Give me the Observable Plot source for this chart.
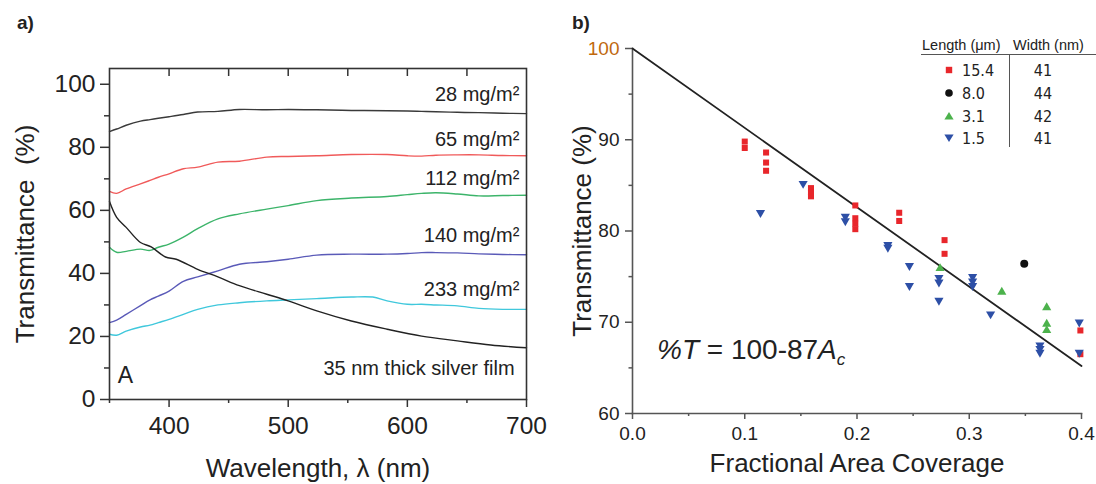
<!DOCTYPE html>
<html>
<head>
<meta charset="utf-8">
<script src="https://cdn.jsdelivr.net/npm/d3@7"></script>
<script src="https://cdn.jsdelivr.net/npm/@observablehq/plot@0.6"></script>
<style>
  html, body { margin: 0; padding: 0; background: #fff; }
  #wrap { position: relative; width: 1096px; height: 484px; overflow: hidden; background: #fff;
          font-family: "Liberation Sans", Arial, sans-serif; color: #222; }
  #wrap svg { position: absolute; top: 0; }
  .abs { position: absolute; white-space: nowrap; }
  .panel-tag { font-weight: bold; font-size: 19px; }
  .leg { font-family: "Liberation Sans Narrow", "DejaVu Sans Condensed", "Liberation Sans", sans-serif; font-size: 16px; transform: translateY(-50%); }
  .hdr { font-size: 14.5px; transform: translateY(-50%); }
  .eq { font-size: 28px; transform: translateY(-50%); }
  .eq sub { font-size: 17px; vertical-align: -0.3em; }
</style>
</head>
<body>
<div id="wrap"></div>
<script>
// ---------- Panel a data: transmittance spectra ----------
const wl28 = [350,356,364,376,384,391,400,412,424,441,459,482,500,524,553,583,600,612,624,642,660,680,700];
const t28  = [85.0,85.8,87.0,88.3,88.8,89.2,89.7,90.4,91.2,91.4,92.0,91.9,92.0,91.9,91.7,91.6,91.5,91.4,91.3,91.1,91.0,90.8,90.7];
const wl65 = [350,356,364,376,384,391,400,412,424,441,459,482,500,524,553,583,600,612,624,642,660,680,700];
const t65  = [66.0,65.4,66.8,68.4,69.5,70.5,71.6,73.2,73.7,75.3,75.6,76.9,77.1,77.3,77.7,77.7,77.3,77.2,77.5,77.6,77.6,77.4,77.3];
const wl112 = [350,356,364,376,384,391,400,412,424,441,459,482,500,524,553,583,600,612,624,642,660,680,700];
const t112  = [48.3,46.7,47.0,47.7,47.3,48.3,49.3,51.5,54.2,57.3,58.9,60.4,61.5,63.1,63.9,64.4,65.0,65.4,65.6,65.2,64.6,64.7,64.8];
const wl140 = [350,356,364,376,384,391,400,412,424,441,459,482,500,524,553,583,600,612,624,642,660,680,700];
const t140  = [24.4,25.2,27.0,29.8,31.6,32.8,34.4,37.5,38.9,40.8,42.9,43.7,44.5,45.8,46.1,46.1,46.3,46.6,46.6,46.5,46.2,46.0,45.9];
const wl233 = [350,356,364,376,384,391,400,412,424,441,459,482,500,524,553,571,583,600,612,624,642,660,680,700];
const t233  = [20.7,20.4,21.7,23.0,23.6,24.4,25.4,27.0,28.6,30.0,30.7,31.3,31.6,32.0,32.5,32.5,31.3,30.2,30.2,30.0,29.7,28.9,28.6,28.6];
const wlAg = [350,356,364,376,385,397,406,424,441,459,482,500,524,553,583,612,642,670,700];
const tAg  = [62.8,57.8,54.6,49.8,48.4,45.2,44.5,41.3,38.9,36.1,33.4,31.3,28.1,24.9,22.3,20.1,18.6,17.3,16.4];

const seriesNames = ["28","65","112","140","233","Ag"];
const seriesColors = ["#3a3a3a","#f05a5a","#3cb46a","#5a5ab8","#40c8dc","#222222"];

const annText = ["28 mg/m²","65 mg/m²","112 mg/m²","140 mg/m²","233 mg/m²","35 nm thick silver film"];
const annX = [694,694,694,694,694,690];
const annY = [96.6,82.3,70.1,52.1,34.9,9.8];

const aYTicks = [0,20,40,60,80,100];
const aYMinor = [10,30,50,70,90];
const aXTicks = [400,500,600,700];
const aXMinor = [350,450,550,650];
const aTopTicks = [400,450,500,550,600,650];

// ---------- Panel b data: transmittance vs area coverage ----------
const redX = [0.100,0.100,0.119,0.119,0.119,0.159,0.159,0.159,0.1985,0.1985,0.1985,0.1985,0.2376,0.2376,0.278,0.278,0.399,0.399];
const redY = [89.8,89.1,88.6,87.5,86.6,84.7,84.2,83.8,82.8,81.4,80.8,80.2,82.0,81.1,79.0,77.5,69.1,66.5];
const blackX = [0.349];
const blackY = [76.4];
const greenX = [0.274,0.329,0.369,0.369,0.369];
const greenY = [75.9,73.3,71.6,69.8,69.1];
const blueX = [0.114,0.152,0.1896,0.1896,0.2275,0.2275,0.2467,0.2467,0.273,0.273,0.273,0.303,0.303,0.303,0.319,0.363,0.363,0.363,0.398,0.398];
const blueY = [82.0,85.2,81.6,81.1,78.5,78.2,76.2,74.0,74.9,74.4,72.4,75.0,74.5,74.0,70.9,67.5,67.1,66.7,70.0,66.7];
const fitX = [0, 0.4];
const fitY = [100, 65.2];

const bYTicks = [60,70,80,90];
const bYTop = [100];
const bYMinor = [65,75,85,95];
const bXTicks = [0,0.1,0.2,0.3,0.4];
const bXMinor = [0.05,0.15,0.25,0.35];

const legLength = ["15.4","8.0","3.1","1.5"];
const legWidth = ["41","44","42","41"];

// ---------- build tables ----------
const specWl = [wl28,wl65,wl112,wl140,wl233,wlAg];
const specT = [t28,t65,t112,t140,t233,tAg];
const spectra = seriesNames.flatMap((s,i) => specWl[i].map((w,j) => ({s, wl: w, t: specT[i][j]})));
const ann = annText.map((t,i) => ({t, x: annX[i], y: annY[i]}));
const zip = (xs, ys) => xs.map((x,i) => ({x, y: ys[i]}));

const FONT = '"Liberation Sans", Arial, sans-serif';
const wrap = document.getElementById("wrap");

// ---------- Panel a ----------
const plotA = Plot.plot({
  width: 560, height: 484,
  marginLeft: 109, marginRight: 34, marginTop: 68, marginBottom: 85,
  style: {fontFamily: FONT, background: "transparent", color: "#222"},
  x: {domain: [350, 700]},
  y: {domain: [0, 105]},
  color: {type: "ordinal", domain: seriesNames, range: seriesColors},
  marks: [
    Plot.line(spectra, {x: "wl", y: "t", z: "s", stroke: "s", strokeWidth: 1.4, curve: "catmull-rom"}),
    Plot.frame({stroke: "#333", strokeWidth: 1.6}),
    Plot.axisY({ticks: aYTicks, tickSize: 9, tickPadding: 5, fontSize: 24.5, label: null, stroke: "#333", strokeWidth: 1.5, fill: "#222"}),
    Plot.axisY({ticks: aYMinor, tickSize: 5, text: null, label: null, stroke: "#333", strokeWidth: 1.5}),
    Plot.axisX({ticks: aXTicks, tickSize: 8, tickPadding: 9, fontSize: 24.5, label: null, stroke: "#333", strokeWidth: 1.5, fill: "#222"}),
    Plot.axisX({ticks: aXMinor, tickSize: 4, text: null, label: null, stroke: "#333", strokeWidth: 1.5}),
    Plot.tickX(aTopTicks, {x: d => d, insetBottom: 323, stroke: "#333", strokeWidth: 1.5}),
    Plot.text(ann, {x: "x", y: "y", text: "t", textAnchor: "end", fontSize: 20, fill: "#222"}),
    Plot.text(["A"], {x: [357], y: [7.6], text: d => d, textAnchor: "start", fontSize: 23, fill: "#222"}),
    Plot.text(["Transmittance  (%)"], {text: d => d, frameAnchor: "left", textAnchor: "middle", lineAnchor: "middle", dx: -84, rotate: -90, fontSize: 26, fill: "#222"}),
    Plot.text(["Wavelength, λ (nm)"], {text: d => d, frameAnchor: "bottom", textAnchor: "middle", lineAnchor: "middle", dy: 69, fontSize: 26, fill: "#222"})
  ]
});
plotA.style.left = "0px";
wrap.appendChild(plotA);

// ---------- Panel b ----------
const plotB = Plot.plot({
  width: 536, height: 484,
  marginLeft: 72, marginRight: 15, marginTop: 48, marginBottom: 71,
  style: {fontFamily: FONT, background: "transparent", color: "#222"},
  x: {domain: [0, 0.4]},
  y: {domain: [60, 100]},
  marks: [
    Plot.frame({anchor: "left", stroke: "#555", strokeWidth: 1.6}),
    Plot.frame({anchor: "bottom", stroke: "#555", strokeWidth: 1.6}),
    Plot.axisY({ticks: bYTicks, tickSize: 7, tickPadding: 6, fontSize: 19, label: null, stroke: "#555", strokeWidth: 1.5, fill: "#222"}),
    Plot.axisY({ticks: bYTop, tickSize: 7, tickPadding: 6, fontSize: 19, label: null, stroke: "#555", strokeWidth: 1.5, fill: "#c0680e"}),
    Plot.axisY({ticks: bYMinor, tickSize: 3.5, text: null, label: null, stroke: "#555", strokeWidth: 1.5}),
    Plot.axisX({ticks: bXTicks, tickFormat: d3.format(".1f"), tickSize: 6, tickPadding: 7, fontSize: 19, label: null, stroke: "#555", strokeWidth: 1.5, fill: "#222"}),
    Plot.axisX({ticks: bXMinor, tickSize: 3, text: null, label: null, stroke: "#555", strokeWidth: 1.5}),
    Plot.line(zip(fitX, fitY), {x: "x", y: "y", stroke: "#222", strokeWidth: 1.8}),
    Plot.dot(zip(redX, redY), {x: "x", y: "y", symbol: "square", r: 3.4, fill: "#e8262b"}),
    Plot.dot(zip(blueX, blueY), {x: "x", y: "y", symbol: "triangle", r: 3.4, rotate: 180, fill: "#2d4fa6"}),
    Plot.dot(zip(greenX, greenY), {x: "x", y: "y", symbol: "triangle", r: 3.4, fill: "#4cb24c"}),
    Plot.dot(zip(blackX, blackY), {x: "x", y: "y", symbol: "circle", r: 4, fill: "#111"}),
    Plot.text(["Transmittance (%)"], {text: d => d, frameAnchor: "left", textAnchor: "middle", lineAnchor: "middle", dx: -50, rotate: -90, fontSize: 26, fill: "#222"}),
    Plot.text(["Fractional Area Coverage"], {text: d => d, frameAnchor: "bottom", textAnchor: "middle", lineAnchor: "middle", dy: 50, fontSize: 26, fill: "#222"})
  ]
});
plotB.style.left = "560px";
wrap.appendChild(plotB);

// ---------- overlays: panel tags, equation, legend table ----------
function add(html, cls, left, top) {
  const d = document.createElement("div");
  d.className = "abs " + cls;
  d.style.left = left + "px";
  d.style.top = top + "px";
  d.innerHTML = html;
  wrap.appendChild(d);
  return d;
}
add("a)", "panel-tag", 17, 12);
add("b)", "panel-tag", 572, 12);
add("<i>%T</i> = 100-87<i>A</i><sub><i>c</i></sub>", "eq", 657, 352);

add("Length (μm)", "hdr", 922, 45);
add("Width (nm)", "hdr", 1013, 45);
const hline = add("", "", 921, 54); hline.style.width = "175px"; hline.style.borderTop = "1.3px solid #555";
const vline = add("", "", 1009, 55); vline.style.height = "92px"; vline.style.borderLeft = "1.5px solid #555";

const rowY = [70, 92.7, 116, 138.3];
const markers = [
  '<svg width="10" height="10" viewBox="-5 -5 10 10" style="position:static"><rect x="-3.2" y="-3.2" width="6.4" height="6.4" fill="#e8262b"/></svg>',
  '<svg width="10" height="10" viewBox="-5 -5 10 10" style="position:static"><circle r="3.8" fill="#111"/></svg>',
  '<svg width="10" height="10" viewBox="-5 -5 10 10" style="position:static"><path d="M0,-4L4.6,3.6L-4.6,3.6Z" fill="#4cb24c"/></svg>',
  '<svg width="10" height="10" viewBox="-5 -5 10 10" style="position:static"><path d="M0,4L4.6,-3.6L-4.6,-3.6Z" fill="#2d4fa6"/></svg>'
];
legLength.forEach((v,i) => {
  const m = add(markers[i], "", 944, rowY[i] - 5); m.style.lineHeight = "0";
  add(v, "leg", 962, rowY[i]);
  const w = add(legWidth[i], "leg", 1043, rowY[i]);
  w.style.transform = "translate(-50%,-50%)";
});
</script>
</body>
</html>
